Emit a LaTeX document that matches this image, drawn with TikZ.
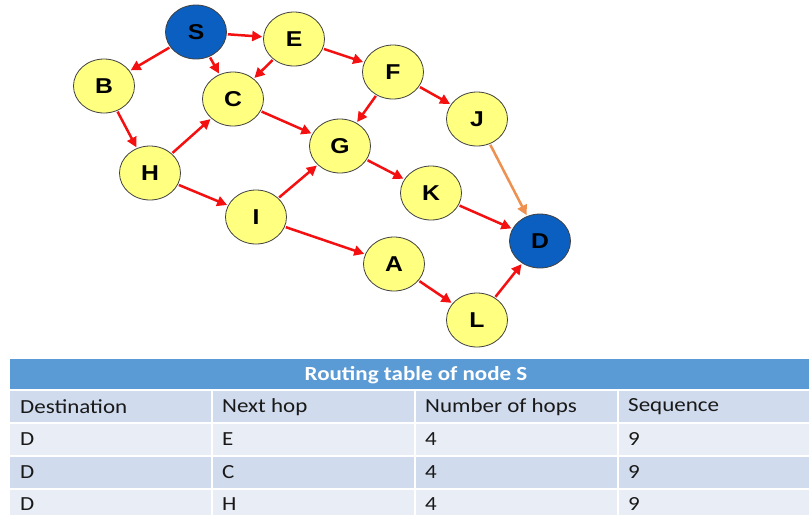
\documentclass[tikz,border=0pt]{standalone}
\usepackage{fontspec}
\usetikzlibrary{arrows.meta,shapes.geometric}
\newfontfamily\nodefont[FakeStretch=1.15]{Liberation Sans}
\newfontfamily\tabfont[FakeStretch=1.15]{Carlito}
\definecolor{nodeyellow}{HTML}{FFFF80}
\definecolor{nodeblue}{HTML}{0A5FC0}
\definecolor{edgered}{HTML}{F41010}
\definecolor{edgeorange}{HTML}{EE9050}
\definecolor{hdrblue}{HTML}{5B9BD5}
\definecolor{banddark}{HTML}{D0DBED}
\definecolor{bandlight}{HTML}{E9EEF6}
\tikzset{
  netnode/.style={ellipse, draw=black!75, line width=0.8pt, fill=nodeyellow,
    minimum width=61pt, minimum height=54pt, inner sep=0pt,
    font=\nodefont\bfseries\fontsize{21.5}{24}\selectfont},
  srcnode/.style={netnode, fill=nodeblue},
  link/.style={draw=edgered, line width=2.5pt, shorten <=1pt, shorten >=1pt,
    -{Triangle[length=10pt,width=10pt]}},
  altlink/.style={link, draw=edgeorange},
  celltext/.style={anchor=west, inner sep=0pt, text=black!90,
    font=\tabfont\fontsize{20}{22}\selectfont},
  hdrtext/.style={inner sep=0pt, text=white,
    font=\tabfont\bfseries\fontsize{20}{22}\selectfont}
}
\begin{document}
\begin{tikzpicture}[x=1pt,y=-1pt]
\useasboundingbox (0,0) rectangle (809,515);
% nodes
\node[srcnode] (S) at (196,32) {S};
\node[netnode] (E) at (294,39) {E};
\node[netnode] (B) at (104,86) {B};
\node[netnode] (C) at (233,99) {C};
\node[netnode] (F) at (393,72) {F};
\node[netnode] (J) at (477,119) {J};
\node[netnode] (G) at (340,146) {G};
\node[netnode] (H) at (150,173) {H};
\node[netnode] (K) at (431,193) {K};
\node[netnode] (I) at (256,217) {I};
\node[srcnode] (D) at (540,241) {D};
\node[netnode] (A) at (394,264) {A};
\node[netnode] (L) at (477,320) {L};
% edges
\draw[link] (S) -- (E);
\draw[link] (S) -- (B);
\draw[link] (S) -- (C);
\draw[link] (E) -- (C);
\draw[link] (E) -- (F);
\draw[link] (B) -- (H);
\draw[link] (H) -- (C);
\draw[link] (C) -- (G);
\draw[link] (F) -- (G);
\draw[link] (F) -- (J);
\draw[link] (H) -- (I);
\draw[link] (I) -- (G);
\draw[link] (G) -- (K);
\draw[link] (I) -- (A);
\draw[link] (K) -- (D);
\draw[altlink] (J) -- (D);
\draw[link] (A) -- (L);
\draw[link] (L) -- (D);
% table
\fill[hdrblue] (10,359) rectangle (809,389);
\fill[banddark] (10,391) rectangle (809,422);
\fill[bandlight] (10,424) rectangle (809,455);
\fill[banddark] (10,457) rectangle (809,488);
\fill[bandlight] (10,490) rectangle (809,515);
\foreach \cx in {212,415,618}{
  \draw[white, line width=1.5pt] (\cx,391) -- (\cx,515);
}
\node[hdrtext] (title) at (416,375) {Routing table of node S};
\node[celltext] (h1) at (20,407) {Destination};
\node[celltext] (h2) at (222,407) {Next hop};
\node[celltext] (h3) at (425,407) {Number of hops};
\node[celltext] (h4) at (628,407) {Sequence};
\node[celltext] (r1a) at (20,439) {D};
\node[celltext] (r1b) at (222,439) {E};
\node[celltext] (r1c) at (425,439) {4};
\node[celltext] (r1d) at (628,439) {9};
\node[celltext] (r2a) at (20,472) {D};
\node[celltext] (r2b) at (222,472) {C};
\node[celltext] (r2c) at (425,472) {4};
\node[celltext] (r2d) at (628,472) {9};
\node[celltext] (r3a) at (20,504) {D};
\node[celltext] (r3b) at (222,504) {H};
\node[celltext] (r3c) at (425,504) {4};
\node[celltext] (r3d) at (628,504) {9};
\end{tikzpicture}
\end{document}
